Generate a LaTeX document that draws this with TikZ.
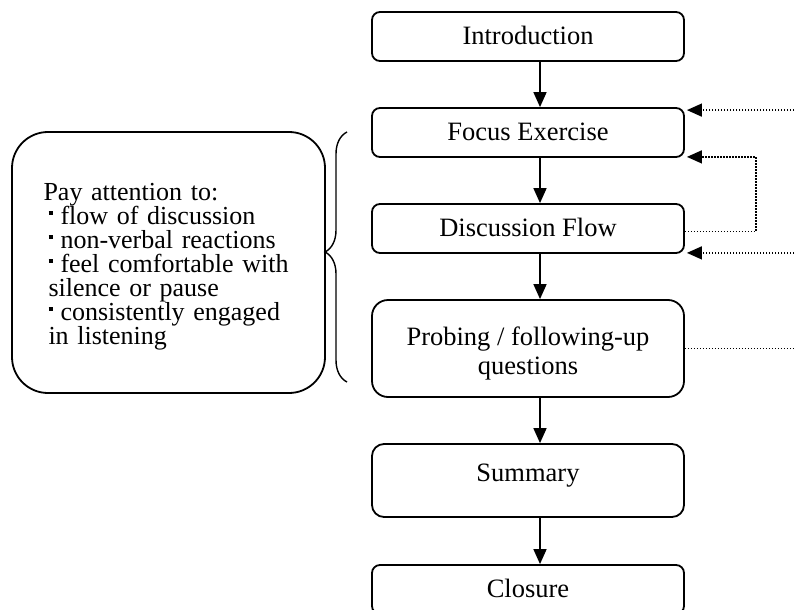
\documentclass[tikz,border=0pt]{standalone}
\usepackage{fontspec}
\setmainfont{Liberation Serif}
\usetikzlibrary{arrows.meta,decorations.pathreplacing,calc}

% small square bullet used in the note box
\newcommand{\sqbul}{\rule[4.6pt]{2.2pt}{2.1pt}}

\begin{document}
\begin{tikzpicture}[x=0.5pt,y=-0.5pt,
  txt/.style={font=\fontsize{13.25}{14.5}\selectfont},
  stepframe/.style={txt, draw, line width=0.9pt, rounded corners=4pt,
    minimum width=156pt, minimum height=24.5pt, inner sep=0pt},
  flowbox/.style={stepframe, text height=0.8em, text depth=0pt},
  notebox/.style={draw, line width=0.9pt, rounded corners=18pt,
    minimum width=156.5pt, minimum height=130.5pt, inner sep=0pt,
    text width=125pt, align=left, font=\fontsize{13}{12}\selectfont},
  arr/.style={line width=0.8pt, -{Triangle[length=7.5pt,width=6.5pt]}},
  dots/.style={line width=0.7pt, dash pattern=on 0.7pt off 0.8pt},
  dotarr/.style={dots, -{Triangle[length=7.5pt,width=6.5pt]}},
]
\useasboundingbox (0,0) rectangle (795,609);

% main sequence of steps
\node[flowbox] (intro) at (528,36.5) {Introduction};
\node[flowbox] (focus) at (528,132.5) {Focus Exercise};
\node[flowbox] (disc)  at (528,228.5) {Discussion Flow};
\node[stepframe, minimum height=48.5pt, rounded corners=8pt, align=center]
      (probe) at (528,348.5) {\rule{0pt}{14pt}Probing / following-up\\questions};
\node[flowbox, minimum height=36.5pt, rounded corners=6pt, text depth=0.68em]
      (summary) at (528,480.5) {Summary};
\node[flowbox] (closure) at (528,589.5) {Closure};

% note box on the left
\node[notebox] (note) at (168.5,262.5)
  {\rule{0pt}{13pt}Pay attention to:\\
   \hspace*{2.5pt}\sqbul\hspace{3.8pt}flow of discussion\\
   \hspace*{2.5pt}\sqbul\hspace{3.8pt}non-verbal reactions\\
   \hspace*{2.5pt}\sqbul\hspace{3.8pt}feel comfortable with\\
   \hspace*{2.5pt}silence or pause\\
   \hspace*{2.5pt}\sqbul\hspace{3.8pt}consistently engaged\\
   \hspace*{2.5pt}in listening};

% brace grouping the middle steps
\coordinate (bb) at (347,382);
\coordinate (bt) at (347,132);
\draw[line width=0.7pt, decorate,
      decoration={brace, amplitude=11pt, aspect=0.52}] (bb) -- (bt);

% solid arrows down the sequence
\coordinate (ax) at (540,0);
\draw[arr] (intro.south -| ax) -- (focus.north -| ax);
\draw[arr] (focus.south -| ax) -- (disc.north -| ax);
\draw[arr] (disc.south -| ax) -- (probe.north -| ax);
\draw[arr] (probe.south -| ax) -- (summary.north -| ax);
\draw[arr] (summary.south -| ax) -- (closure.north -| ax);

% dotted feedback lines on the right
\coordinate (re) at (800,0);
\coordinate (lp) at (756,0);
\coordinate (fne) at ([shift={(2,3)}]focus.north east);
\coordinate (fse) at ([shift={(2,-1)}]focus.south east);
\coordinate (dse) at ([shift={(2,-1)}]disc.south east);
\coordinate (dmid) at ([yshift=-1.5]disc.east);
\draw[dotarr] (re |- fne) -- (fne);
\draw[dotarr] (dmid) -- (lp |- dmid) -- (lp |- fse) -- (fse);
\draw[dotarr] (re |- dse) -- (dse);
\draw[dots] (probe.east) -- (re |- probe.east);
\end{tikzpicture}
\end{document}
